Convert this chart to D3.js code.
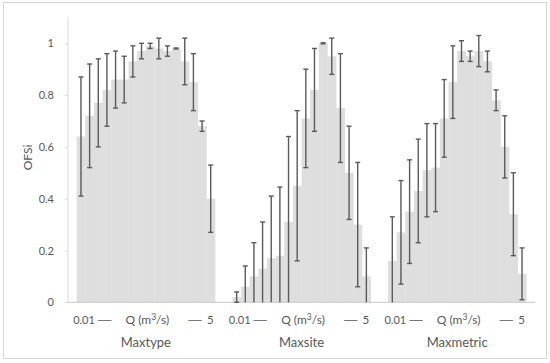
<!DOCTYPE html>
<html>
<head>
<meta charset="utf-8">
<script src="https://cdn.jsdelivr.net/npm/d3@7"></script>
<style>
body { margin: 0; background: #fff; }
text { font-family: Lato, "Open Sans", sans-serif; fill: #595959; }
</style>
</head>
<body>
<div id="chart"></div>
<script>
// groups and the 16 discharge classes in each
var groups = ["Maxtype", "Maxsite", "Maxmetric"];
var nClasses = 16;

// mean OFSi per discharge class
var maxtype   = [0.64, 0.72, 0.77, 0.82, 0.86, 0.86, 0.93, 0.97, 0.99, 0.98, 0.97, 0.98, 0.93, 0.85, 0.68, 0.40];
var maxsite   = [0.02, 0.06, 0.10, 0.13, 0.17, 0.18, 0.31, 0.45, 0.71, 0.82, 1.00, 0.95, 0.75, 0.50, 0.30, 0.10];
var maxmetric = [0.16, 0.27, 0.35, 0.43, 0.51, 0.52, 0.71, 0.85, 0.97, 0.95, 0.97, 0.93, 0.78, 0.60, 0.34, 0.11];

// error (+/-) per discharge class
var maxtypeErr   = [0.23, 0.20, 0.17, 0.14, 0.11, 0.09, 0.06, 0.03, 0.01, 0.04, 0.02, 0.002, 0.09, 0.11, 0.02, 0.13];
var maxsiteErr   = [0.02, 0.08, 0.13, 0.18, 0.24, 0.265, 0.33, 0.29, 0.19, 0.16, 0.002, 0.07, 0.21, 0.18, 0.24, 0.11];
var maxmetricErr = [0.17, 0.20, 0.20, 0.20, 0.18, 0.17, 0.15, 0.14, 0.04, 0.02, 0.06, 0.04, 0.04, 0.12, 0.16, 0.10];

var yTicks = [0, 0.2, 0.4, 0.6, 0.8, 1];
var qLow = "0.01", qHigh = "5";

var allVals = [maxtype, maxsite, maxmetric];
var allErrs = [maxtypeErr, maxsiteErr, maxmetricErr];

var width = 550, height = 363;
var plotLeft = 68, plotRight = 535, plotTop = 17.4, plotBottom = 302.3;

var svg = d3.select("#chart").append("svg")
  .attr("width", width)
  .attr("height", height);

// outer frame
svg.append("rect")
  .attr("x", 3.5).attr("y", 2.5)
  .attr("width", 543).attr("height", 356)
  .attr("fill", "none")
  .attr("stroke", "#d9d9d9");

// slots: each group has an empty slot at both ends
var slots = [];
groups.forEach(function(g) {
  for (var i = 0; i < nClasses + 2; i++) slots.push(g + "-" + i);
});

var x = d3.scaleBand().domain(slots).range([plotLeft, plotRight]).padding(0);
var y = d3.scaleLinear().domain([0, 1.1]).range([plotBottom, plotTop]);
var bw = x.bandwidth();

var data = [];
groups.forEach(function(g, gi) {
  allVals[gi].forEach(function(v, i) {
    data.push({ key: g + "-" + (i + 1), v: v, e: allErrs[gi][i] });
  });
});

// y axis
var yAxis = svg.append("g")
  .attr("transform", "translate(" + plotLeft + ",0)")
  .call(d3.axisLeft(y).tickValues(yTicks).tickSize(3).tickPadding(11)
    .tickFormat(function(d) { return d === 0 || d === 1 ? d : d3.format(".1f")(d); }));
yAxis.select(".domain").attr("stroke", "#d9d9d9").attr("d", "M0," + y(0) + "V" + plotTop);
yAxis.selectAll(".tick line").attr("stroke", "#d9d9d9");
yAxis.selectAll("text").attr("font-size", 11).attr("fill", "#595959")
  .attr("font-family", "Lato, 'Open Sans', sans-serif");

svg.append("text")
  .attr("transform", "translate(32,157.5) rotate(-90)")
  .attr("text-anchor", "middle")
  .attr("font-size", 12)
  .text("OFSi");

// bars
svg.append("g").selectAll("rect")
  .data(data)
  .enter().append("rect")
  .attr("x", function(d) { return x(d.key); })
  .attr("width", bw + 0.3)
  .attr("y", function(d) { return y(d.v); })
  .attr("height", function(d) { return y(0) - y(d.v); })
  .attr("fill", "#dedede");

// baseline
svg.append("line")
  .attr("x1", plotLeft).attr("x2", plotRight)
  .attr("y1", y(0)).attr("y2", y(0))
  .attr("stroke", "#c8c8c8");

// error bars, clipped at zero
var cap = 2.5;
var eb = svg.append("g").selectAll("g")
  .data(data)
  .enter().append("g")
  .attr("stroke", "#5a5a5a")
  .attr("stroke-width", 1.4);

function cx(d) { return x(d.key) + bw / 2; }

eb.append("line")
  .attr("x1", cx).attr("x2", cx)
  .attr("y1", function(d) { return y(d.v + d.e); })
  .attr("y2", function(d) { return y(Math.max(0, d.v - d.e)); });

eb.append("line")
  .attr("x1", function(d) { return cx(d) - cap; })
  .attr("x2", function(d) { return cx(d) + cap; })
  .attr("y1", function(d) { return y(d.v + d.e); })
  .attr("y2", function(d) { return y(d.v + d.e); });

eb.filter(function(d) { return d.v - d.e >= 0; }).append("line")
  .attr("x1", function(d) { return cx(d) - cap; })
  .attr("x2", function(d) { return cx(d) + cap; })
  .attr("y1", function(d) { return y(d.v - d.e); })
  .attr("y2", function(d) { return y(d.v - d.e); });

// category labels
var lab = svg.append("g").selectAll("g")
  .data(groups)
  .enter().append("g");

function b0(g) { return x(g + "-1"); }
function b1(g) { return x(g + "-" + nClasses) + bw; }
function mid(g) { return (b0(g) + b1(g)) / 2; }

lab.append("text")
  .attr("x", function(g) { return b0(g) - 3.5; })
  .attr("y", 324)
  .attr("font-size", 11)
  .text(qLow);

lab.append("text")
  .attr("x", function(g) { return b0(g) + 20; })
  .attr("y", 324)
  .attr("font-size", 11.5)
  .attr("textLength", 16)
  .attr("lengthAdjust", "spacingAndGlyphs")
  .text("—");

lab.append("text")
  .attr("x", function(g) { return b1(g) - 28; })
  .attr("y", 324)
  .attr("font-size", 11.5)
  .attr("textLength", 16)
  .attr("lengthAdjust", "spacingAndGlyphs")
  .text("—");

lab.append("text")
  .attr("x", function(g) { return b1(g) - 1.4; })
  .attr("y", 324)
  .attr("text-anchor", "end")
  .attr("font-size", 11.5)
  .text(qHigh);

var q = lab.append("text")
  .attr("x", function(g) { return mid(g) + 1.5; })
  .attr("y", 324)
  .attr("text-anchor", "middle")
  .attr("font-size", 12);
q.append("tspan").text("Q (m");
q.append("tspan").attr("font-size", 8.5).attr("dy", -4.5).text("3");
q.append("tspan").attr("dy", 4.5).text("/s)");

lab.append("text")
  .attr("x", mid)
  .attr("y", 346.5)
  .attr("text-anchor", "middle")
  .attr("font-size", 13)
  .text(function(g) { return g; });
</script>
</body>
</html>
